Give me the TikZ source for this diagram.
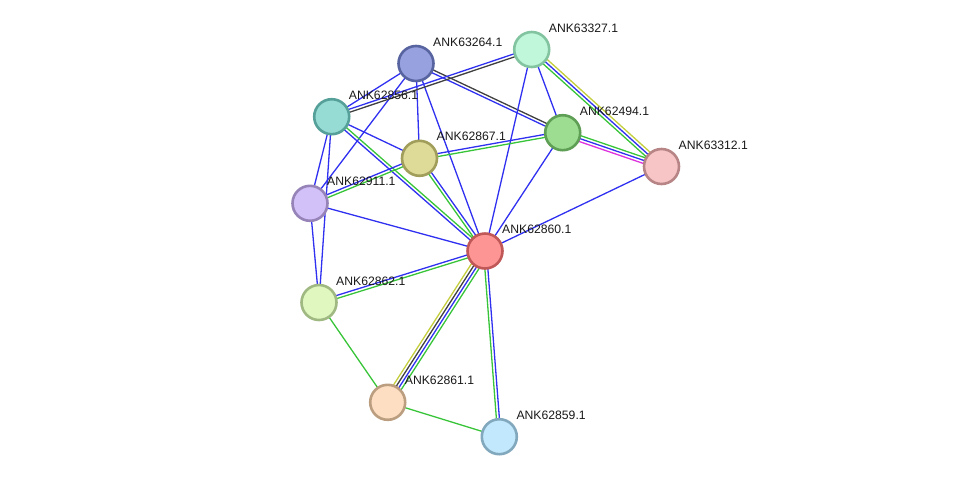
\documentclass[tikz,border=0pt]{standalone}
\usepackage{fontspec}
\setmainfont{Liberation Sans}
\usetikzlibrary{calc,backgrounds}
\definecolor{eblue}{RGB}{48,48,240}
\definecolor{egreen}{RGB}{56,196,56}
\definecolor{eyellow}{RGB}{196,206,60}
\definecolor{egray}{RGB}{64,64,64}
\definecolor{emag}{RGB}{222,50,222}
\newcommand\lnk[3]{%
  \gdef\lnkcount{0}%
  \foreach \c in {#3}{\xdef\lnkcount{\the\numexpr\lnkcount+1\relax}}%
  \foreach \c [count=\i] in {#3}{%
    \pgfmathsetmacro\off{(\i-(\lnkcount+1)/2)*3}%
    \draw[edge,\c] ($(#1)!\off pt!90:(#2)$) -- ($(#2)!\off pt!-90:(#1)$);
  }}
\newcommand\prot[6]{% name, x, y, fill, border, label
  \definecolor{f#1}{RGB}{#4}\definecolor{b#1}{RGB}{#5}%
  \node[protein, fill=f#1, draw=b#1] (#1) at (#2,#3) {};
  \node[lbl] (l#1) at (#2+17,#3-17.5) {#6};
}
\begin{document}
\begin{tikzpicture}[x=1pt,y=-1pt,
  protein/.style={circle, minimum size=35pt, inner sep=0pt, line width=2.6pt},
  lbl/.style={anchor=base west, font=\fontsize{12.2}{14}\selectfont, inner sep=0pt, text=black!90},
  edge/.style={line width=1.3pt}]
\useasboundingbox (0,0) rectangle (976,483);
\prot{n63264}{416}{63.5}{152,161,224}{88,100,160}{ANK63264.1}
\prot{n63327}{531.7}{49.5}{192,246,218}{130,196,160}{ANK63327.1}
\prot{n62856}{331.7}{116.7}{150,220,212}{86,160,154}{ANK62856.1}
\prot{n62494}{562.7}{132.7}{157,221,145}{94,158,85}{ANK62494.1}
\prot{n62867}{419.5}{158.3}{222,218,152}{160,158,90}{ANK62867.1}
\prot{n63312}{661.5}{166.5}{247,197,198}{184,133,134}{ANK63312.1}
\prot{n62911}{310}{203.3}{210,192,248}{150,131,184}{ANK62911.1}
\prot{n62860}{485}{251}{253,149,149}{192,88,88}{ANK62860.1}
\prot{n62862}{319}{302.5}{224,248,192}{160,184,130}{ANK62862.1}
\prot{n62861}{387.7}{402.3}{253,222,194}{187,158,128}{ANK62861.1}
\prot{n62859}{499.3}{436.7}{194,232,253}{130,168,189}{ANK62859.1}
\begin{scope}[on background layer]
\lnk{n63264}{n62856}{eblue}
\lnk{n63264}{n62911}{eblue}
\lnk{n63264}{n62867}{eblue}
\lnk{n63264}{n62860}{eblue}
\lnk{n63264}{n62494}{eblue,egray}
\lnk{n63327}{n62856}{eblue,egray}
\lnk{n63327}{n62494}{eblue}
\lnk{n63327}{n62860}{eblue}
\lnk{n63327}{n63312}{egreen,eblue,eyellow}
\lnk{n62856}{n62867}{eblue}
\lnk{n62856}{n62860}{eblue,egreen}
\lnk{n62856}{n62911}{eblue}
\lnk{n62856}{n62862}{eblue}
\lnk{n62494}{n62867}{eblue,egreen}
\lnk{n62494}{n63312}{emag,eblue,egreen}
\lnk{n62494}{n62860}{eblue}
\lnk{n62867}{n62911}{eblue,egreen}
\lnk{n62867}{n62860}{egreen,eblue}
\lnk{n62911}{n62860}{eblue}
\lnk{n62911}{n62862}{eblue}
\lnk{n63312}{n62860}{eblue}
\lnk{n62860}{n62862}{eblue,egreen}
\lnk{n62860}{n62861}{eyellow,egray,eblue,egreen}
\lnk{n62860}{n62859}{egreen,eblue}
\lnk{n62862}{n62861}{egreen}
\lnk{n62861}{n62859}{egreen}
\end{scope}
\end{tikzpicture}
\end{document}
